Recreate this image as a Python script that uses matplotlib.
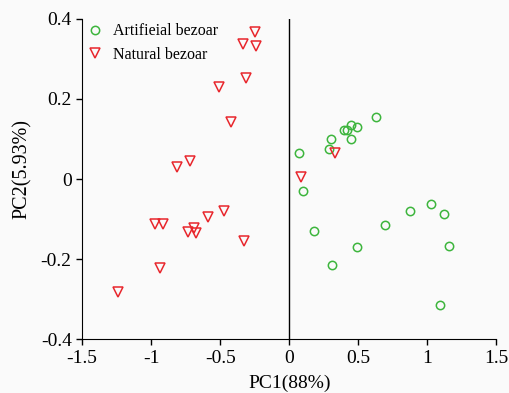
import matplotlib
matplotlib.use('Agg')
import matplotlib.pyplot as plt

# PCA scores
art_pc1 = [0.07, 0.30, 0.29, 0.40, 0.42, 0.448, 0.49, 0.448, 0.63,
           0.10, 0.18, 0.31, 0.495, 0.695, 0.876, 1.028, 1.12, 1.158, 1.095]
art_pc2 = [0.065, 0.101, 0.075, 0.122, 0.122, 0.135, 0.131, 0.099, 0.154,
           -0.03, -0.13, -0.215, -0.169, -0.116, -0.079, -0.062, -0.088, -0.167, -0.315]

nat_pc1 = [-0.25, -0.331, -0.242, -0.312, -0.51, -0.42, -0.813, -0.72, 0.33, 0.083,
           -0.97, -0.912, -0.73, -0.688, -0.674, -0.59, -0.47, -0.324, -0.936, -1.242]
nat_pc2 = [0.366, 0.338, 0.331, 0.253, 0.231, 0.143, 0.031, 0.046, 0.065, 0.004,
           -0.112, -0.112, -0.132, -0.123, -0.135, -0.094, -0.08, -0.156, -0.223, -0.283]

xticks = [-1.5, -1, -0.5, 0, 0.5, 1, 1.5]
xtick_labels = ['-1.5', '-1', '-0.5', '0', '0.5', '1', '1.5']
yticks = [-0.4, -0.2, 0, 0.2, 0.4]
ytick_labels = ['-0.4', '-0.2', '0', '0.2', '0.4']

plt.rcParams['font.family'] = ['Liberation Serif', 'DejaVu Serif']
plt.rcParams['axes.unicode_minus'] = False

fig = plt.figure(figsize=(5.1, 3.93), dpi=100, facecolor='#fafafa')
ax = fig.add_axes([0.161, 0.137, 0.812, 0.815])
ax.set_facecolor('#fafafa')

ax.plot(art_pc1, art_pc2, 'o', ls='none', mfc='none', mec='#3db53d',
        ms=6, mew=1.1, label='Artifieial bezoar')
ax.plot(nat_pc1, nat_pc2, 'v', ls='none', mfc='none', mec='#e8262c',
        ms=7, mew=1.1, label='Natural bezoar')

ax.axvline(0, color='black', lw=1)

ax.set_xlim(-1.5, 1.5)
ax.set_ylim(-0.4, 0.4)
ax.set_xticks(xticks)
ax.set_xticklabels(xtick_labels)
ax.set_yticks(yticks)
ax.set_yticklabels(ytick_labels)
ax.tick_params(labelsize=14, direction='out', length=4, width=1)

ax.spines['top'].set_visible(False)
ax.spines['right'].set_visible(False)

ax.set_xlabel('PC1(88%)', fontsize=14)
ax.set_ylabel('PC2(5.93%)', fontsize=14.5)
ax.xaxis.set_label_coords(0.5, -0.112)
ax.yaxis.set_label_coords(-0.12, 0.53)

ax.legend(loc='upper left', bbox_to_anchor=(-0.007, 1.006), frameon=False,
          fontsize=11.5, handletextpad=0.53, borderaxespad=0,
          labelspacing=0.45, handlelength=1.2)

fig.savefig('out.png', dpi=100, facecolor=fig.get_facecolor())
